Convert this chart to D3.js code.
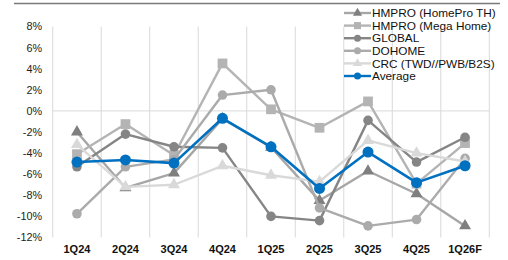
<!DOCTYPE html>
<html>
<head>
<meta charset="utf-8">
<script src="https://cdn.jsdelivr.net/npm/d3@7"></script>
<style>
body { margin: 0; background: #fff; }
svg text { font-family: "Liberation Sans", Arial, sans-serif; }
</style>
</head>
<body>
<div id="chart"></div>
<script>
// quarters on the x axis
var quarters = ["1Q24", "2Q24", "3Q24", "4Q24", "1Q25", "2Q25", "3Q25", "4Q25", "1Q26F"];

// values in %
var homeproTH  = [-2.0, -7.3, -5.9, -0.75, -3.45, -8.5, -5.7, -7.85, -10.9];
var megaHome   = [-4.1, -1.25, -4.2, 4.5, 0.15, -1.6, 0.9, -6.9, -3.05];
var global     = [-5.3, -2.2, -3.4, -3.5, -10.0, -10.4, -0.9, -4.85, -2.5];
var dohome     = [-9.75, -5.3, -4.6, 1.5, 2.0, -9.2, -10.9, -10.3, -4.5];
var crc        = [-3.2, -7.2, -7.0, -5.2, -6.1, -6.7, -2.8, -4.0, -4.8];
var average    = [-4.85, -4.65, -4.95, -0.7, -3.4, -7.35, -3.9, -6.8, -5.2];

var yTicks = [8, 6, 4, 2, 0, -2, -4, -6, -8, -10, -12];

var series = [
  {name: "HMPRO (HomePro TH)", values: homeproTH, line: "#a6a6a6", mark: "#7f7f7f", shape: "triangle"},
  {name: "HMPRO (Mega Home)", values: megaHome, line: "#b4b4b4", mark: "#b4b4b4", shape: "square"},
  {name: "GLOBAL", values: global, line: "#858585", mark: "#858585", shape: "circle"},
  {name: "DOHOME", values: dohome, line: "#ababab", mark: "#ababab", shape: "circle"},
  {name: "CRC (TWD//PWB/B2S)", values: crc, line: "#d9d9d9", mark: "#d9d9d9", shape: "triangle"},
  {name: "Average", values: average, line: "#0070c0", mark: "#0070c0", shape: "circle"}
];

var width = 508, height = 260;
var svg = d3.select("#chart").append("svg")
  .attr("width", width)
  .attr("height", height);

// top rule
svg.append("line")
  .attr("x1", 14).attr("x2", 500)
  .attr("y1", 3.5).attr("y2", 3.5)
  .attr("stroke", "#7a7a7a").attr("stroke-width", 1.5);

var x = d3.scaleBand().domain(quarters).range([52.7, 489.3]);
var y = d3.scaleLinear().domain([-12, 8]).range([237.5, 26.5]);

// vertical gridlines at band edges
var edges = quarters.map(function(q) { return x(q); }).concat([x.range()[1]]);
svg.append("g").selectAll("line").data(edges).enter().append("line")
  .attr("x1", function(d) { return d; }).attr("x2", function(d) { return d; })
  .attr("y1", y(8)).attr("y2", y(-12))
  .attr("stroke", "#d9d9d9").attr("stroke-width", 1);

// zero line
svg.append("line")
  .attr("x1", x.range()[0]).attr("x2", x.range()[1])
  .attr("y1", y(0)).attr("y2", y(0))
  .attr("stroke", "#d9d9d9").attr("stroke-width", 1);

// y axis labels
var yAxis = d3.axisLeft(y).tickValues(yTicks).tickSize(0).tickPadding(0)
  .tickFormat(function(d) { return d + "%"; });
var gy = svg.append("g").attr("transform", "translate(42,0)").call(yAxis);
gy.select(".domain").remove();
gy.selectAll("text").attr("font-size", 10.8).attr("fill", "#222")
  .style("font-family", "Liberation Sans, Arial, sans-serif");

// x axis labels
var xAxis = d3.axisBottom(x).tickSize(0).tickPadding(0);
var gx = svg.append("g").attr("transform", "translate(0,245.5)").call(xAxis);
gx.select(".domain").remove();
gx.selectAll("text").attr("font-size", 11).attr("font-weight", "bold").attr("fill", "#111")
  .style("font-family", "Liberation Sans, Arial, sans-serif");

var cx = function(i) { return x(quarters[i]) + x.bandwidth() / 2; };

var line = d3.line()
  .x(function(d, i) { return cx(i); })
  .y(function(d) { return y(d); });

function drawMark(g, shape, color, px, py, big) {
  if (shape === "circle") {
    g.append("circle").attr("cx", px).attr("cy", py).attr("r", big ? 5.5 : 4.8).attr("fill", color);
  } else {
    var sym = shape === "square" ? d3.symbolSquare : d3.symbolTriangle;
    var size = shape === "square" ? 95 : 62;
    g.append("path").attr("d", d3.symbol().type(sym).size(size)())
      .attr("transform", "translate(" + px + "," + py + ")")
      .attr("fill", color);
  }
}

series.forEach(function(s) {
  var g = svg.append("g");
  var big = s.name === "Average";
  g.append("path").datum(s.values)
    .attr("d", line)
    .attr("fill", "none")
    .attr("stroke", s.line)
    .attr("stroke-width", big ? 2.6 : 2.4)
    .attr("stroke-linejoin", "round");
  s.values.forEach(function(v, i) {
    drawMark(g, s.shape, s.mark, cx(i), y(v), big);
  });
});

// legend
var legend = svg.append("g");
series.forEach(function(s, i) {
  var ly = 13 + i * 12.6;
  var g = legend.append("g");
  g.append("line").attr("x1", 344).attr("x2", 371)
    .attr("y1", ly).attr("y2", ly)
    .attr("stroke", s.line).attr("stroke-width", 2.4);
  if (s.shape === "circle") {
    g.append("circle").attr("cx", 357.5).attr("cy", ly).attr("r", 3.5).attr("fill", s.mark);
  } else {
    var sym = s.shape === "square" ? d3.symbolSquare : d3.symbolTriangle;
    g.append("path").attr("d", d3.symbol().type(sym).size(s.shape === "square" ? 50 : 36)())
      .attr("transform", "translate(357.5," + ly + ")").attr("fill", s.mark);
  }
  g.append("text").attr("x", 372).attr("y", ly + 4.2)
    .attr("font-size", 11.8).attr("fill", "#111").text(s.name);
});
</script>
</body>
</html>
